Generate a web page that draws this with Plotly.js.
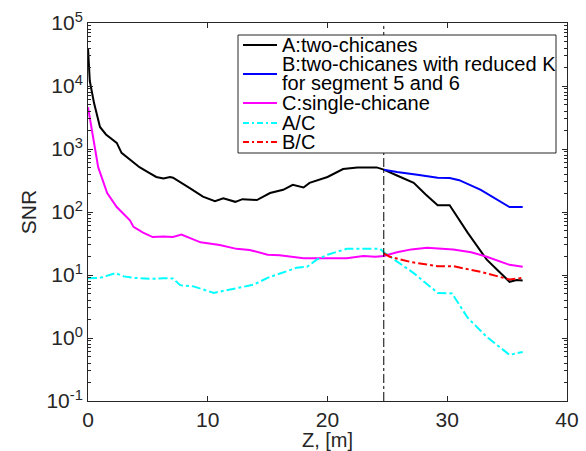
<!DOCTYPE html>
<html>
<head>
<meta charset="utf-8">
<script src="https://cdn.plot.ly/plotly-3.0.1.min.js"></script>
<style>html,body{margin:0;padding:0;background:#fff;}#plot{width:586px;height:451px;}</style>
</head>
<body>
<div id="plot"></div>
<script>
// A: two-chicanes (common part with B up to the vertical line)
const zA = [0, 0.15, 0.5, 1.0, 1.5, 2.4, 2.8, 3.5, 4.3, 5.0, 5.7, 6.3, 6.85, 7.1, 7.7, 8.5, 9.6, 10.6, 11.3, 12.3, 12.9, 14.1, 15.2, 16.3, 17.1, 18.0, 18.5, 20.0, 21.3, 22.5, 24.1, 24.7, 25.8, 27.2, 28.2, 29.2, 30.2, 31.7, 33.3, 35.2, 35.8, 36.3];
const snrA = [40000, 12000, 5400, 2240, 1700, 1250, 870, 680, 515, 430, 360, 340, 360, 350, 300, 240, 175, 148, 165, 145, 160, 155, 200, 225, 270, 245, 290, 360, 480, 510, 510, 470, 380, 290, 190, 128, 128, 47, 17.5, 7.8, 8.3, 8.2];
// B: two-chicanes with reduced K for segment 5 and 6 (after the vertical line)
const zB = [24.7, 25.8, 27.5, 29.2, 30.2, 31.0, 32.8, 35.2, 36.3];
const snrB = [470, 430, 390, 350, 345, 320, 225, 120, 120];
// C: single-chicane
const zC = [0, 0.3, 0.85, 1.6, 2.4, 3.5, 3.8, 4.6, 5.4, 6.3, 6.85, 7.1, 7.8, 9.1, 9.4, 11.0, 12.4, 13.5, 15.0, 16.0, 18.0, 20.0, 21.6, 23.0, 24.0, 24.7, 25.8, 27.0, 28.3, 30.5, 32.0, 33.3, 35.2, 36.3];
const snrC = [4600, 2200, 515, 200, 120, 74, 58, 47, 40, 41, 40, 40, 44, 35, 33, 30, 26, 25, 21, 20.5, 18.5, 18.5, 18.5, 20, 19.5, 20, 23, 25.5, 27, 25.5, 23, 19.5, 14.5, 13.5];
// A/C
const zAC = [0, 1.0, 2.3, 3.0, 3.8, 5.4, 6.3, 7.1, 7.7, 8.8, 10.5, 12.1, 13.8, 15.0, 16.0, 17.4, 18.3, 19.1, 20.0, 21.6, 23.6, 24.4, 24.7, 25.0, 27.2, 29.2, 30.4, 31.7, 33.3, 35.2, 36.3];
const snrAC = [8.9, 9.0, 10.7, 9.5, 9.0, 8.7, 8.9, 8.8, 6.9, 6.6, 5.2, 6.0, 7.0, 9.0, 10.5, 13, 13.5, 17.5, 21, 26, 26, 26, 23, 21, 10.7, 5.2, 5.1, 2.1, 1.04, 0.54, 0.6];
// B/C
const zBC = [24.7, 25.2, 27.0, 29.2, 30.5, 32.8, 35.2, 36.3];
const snrBC = [22, 19.5, 16, 13.8, 13.8, 11.2, 8.5, 9.0];
// vertical marker position
const zMark = 24.7;
// tick labels
const yTickVals = [0.1, 1, 10, 100, 1000, 10000, 100000];
const yTickText = ['10<sup>-1</sup>', '10<sup>0</sup>', '10<sup>1</sup>', '10<sup>2</sup>', '10<sup>3</sup>', '10<sup>4</sup>', '10<sup>5</sup>'];
const xTickVals = [0, 10, 20, 30, 40];
// legend entries
const legNames = ['A:two-chicanes', 'B:two-chicanes with reduced K', 'for segment 5 and 6', 'C:single-chicane', 'A/C', 'B/C'];
const legColors = ['#000000', '#0000ff', null, '#ff00ff', '#00ffff', '#ff0000'];
const legDash = ['solid', 'solid', null, 'solid', 'dash', 'dash'];

const font = 'Liberation Sans, Arial, Helvetica, sans-serif';
const axCol = '#262626';

const traces = [
  {x: zA, y: snrA, name: legNames[0], mode: 'lines', line: {color: legColors[0], width: 2}},
  {x: zB, y: snrB, name: legNames[1], mode: 'lines', line: {color: legColors[1], width: 2}},
  {x: zC, y: snrC, name: legNames[3], mode: 'lines', line: {color: legColors[3], width: 2}},
  {x: zAC, y: snrAC, name: legNames[4], mode: 'lines', line: {color: legColors[4], width: 2, dash: 'dashdot'}},
  {x: zBC, y: snrBC, name: legNames[5], mode: 'lines', line: {color: legColors[5], width: 2, dash: 'dashdot'}}
];

// plot-area geometry in pixels (for legend placement only)
const W = 586, H = 451, mL = 88, mR = 19, mT = 23, mB = 50;
const pw = W - mL - mR, ph = H - mT - mB;
const px = v => (v - mL) / pw;
const py = v => (H - mB - v) / ph;

const shapes = [
  {type: 'line', xref: 'x', yref: 'paper', x0: zMark, x1: zMark, y0: 0, y1: 1, line: {color: '#000', width: 1, dash: 'dashdot'}},
  {type: 'rect', xref: 'paper', yref: 'paper', x0: px(238), x1: px(556), y0: py(153), y1: py(35), line: {color: axCol, width: 1}, fillcolor: '#fff', layer: 'above'}
];
const annotations = [];
const textY = [45, 64, 83.5, 103, 122.5, 142];
const lineY = [45, 74, null, 103, 123, 142];
for (let i = 0; i < legNames.length; i++) {
  annotations.push({xref: 'paper', yref: 'paper', x: px(281), y: py(textY[i]), xanchor: 'left', yanchor: 'middle', text: legNames[i], showarrow: false, font: {family: font, size: 20, color: '#000'}, borderpad: 0});
  if (legColors[i]) {
    shapes.push({type: 'line', xref: 'paper', yref: 'paper', x0: px(243), x1: px(277), y0: py(lineY[i]), y1: py(lineY[i]), line: {color: legColors[i], width: 2, dash: legDash[i] === 'dash' ? '6px,3px,2px,3px' : 'solid'}, layer: 'above'});
  }
}

const layout = {
  width: W, height: H,
  margin: {l: mL, r: mR, t: mT, b: mB},
  paper_bgcolor: '#fff', plot_bgcolor: '#fff',
  font: {family: font, size: 21, color: axCol},
  showlegend: false,
  xaxis: {
    range: [0, 40], tickvals: xTickVals, ticktext: xTickVals.map(String),
    showgrid: false, zeroline: false,
    showline: true, linecolor: axCol, linewidth: 1, mirror: 'ticks',
    ticks: 'inside', ticklen: 5, tickcolor: axCol,
    tickfont: {family: font, size: 21, color: axCol},
    title: {text: 'Z, [m]', font: {family: font, size: 20, color: axCol}, standoff: 3}
  },
  yaxis: {
    type: 'log', range: [-1, 5], tickvals: yTickVals, ticktext: yTickText,
    showgrid: false, zeroline: false,
    showline: true, linecolor: axCol, linewidth: 1, mirror: 'ticks',
    ticks: 'inside', ticklen: 5, tickcolor: axCol,
    minor: {ticks: 'inside', ticklen: 3, tickcolor: axCol, showgrid: false, dtick: 'D1'},
    tickfont: {family: font, size: 21, color: axCol},
    title: {text: 'SNR', font: {family: font, size: 21, color: axCol}, standoff: 4}
  },
  shapes: shapes,
  annotations: annotations
};

Plotly.newPlot('plot', traces, layout, {staticPlot: true, displayModeBar: false});
</script>
</body>
</html>
